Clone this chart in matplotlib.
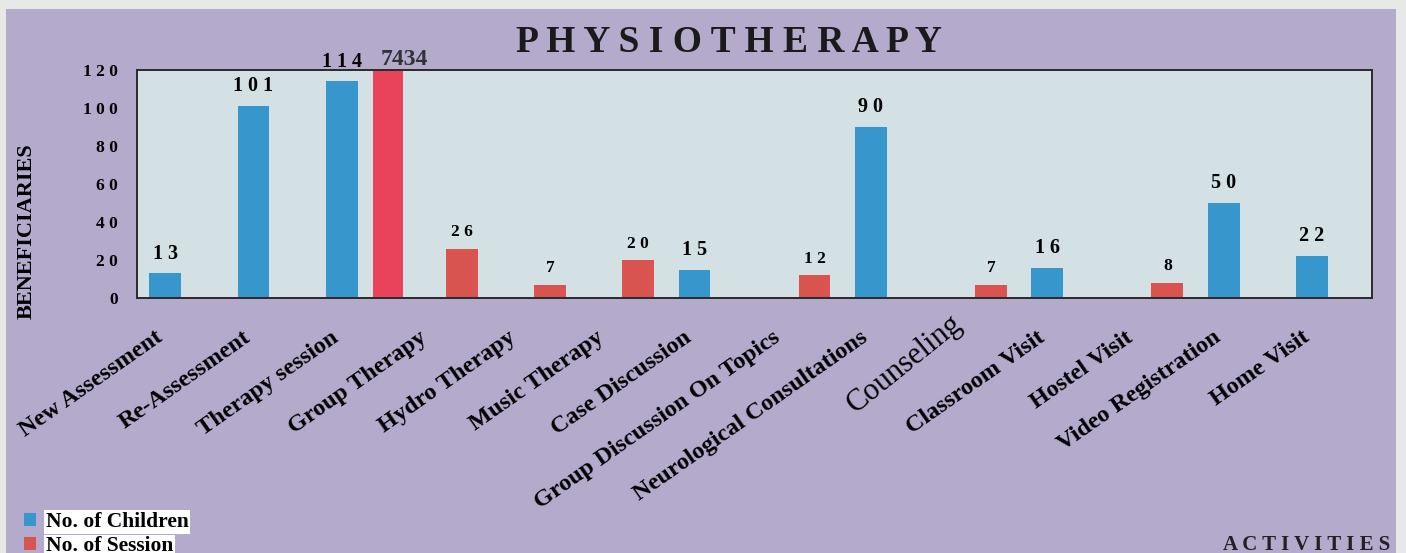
import matplotlib.pyplot as plt
import numpy as np
from matplotlib.patches import Rectangle
from matplotlib.transforms import ScaledTranslation

# data
activities = ['New Assessment', 'Re-Assessment', 'Therapy session', 'Group Therapy',
              'Hydro Therapy', 'Music Therapy', 'Case Discussion',
              'Group Discussion On Topics', 'Neurological Consultations', 'Counseling',
              'Classroom Visit', 'Hostel Visit', 'Video Registration', 'Home Visit']
children = [13, 101, 114, None, None, None, 15, None, 90, None, 16, None, 50, 22]
sessions = [None, None, None, 26, 7, 20, None, 12, None, 7, None, 8, None, None]
total_session_cat = 'Therapy session'
total_session_val = 7434
yticks = [0, 20, 40, 60, 80, 100, 120]

blue = '#3796cb'
red = '#d9544f'
pink = '#e8435b'
purple = '#b4aacb'
serif = ['Liberation Serif', 'DejaVu Serif']
plt.rcParams['font.family'] = serif

fig = plt.figure(figsize=(14.06, 5.53), dpi=100, facecolor='#e7e9e6')
fig.patches.append(Rectangle((6/1406, 0), 1390/1406, 544/553, transform=fig.transFigure,
                             facecolor=purple, edgecolor='none', zorder=-10))

ax = fig.add_axes([137/1406, 255/553, 1235/1406, 228/553])
ax.set_facecolor('#d3e1e5')

x = np.arange(len(activities))
w = 0.36
cx = [i for i, v in zip(x, children) if v is not None]
cv = [v for v in children if v is not None]
sx = [i for i, v in zip(x, sessions) if v is not None]
sv = [v for v in sessions if v is not None]

b1 = ax.bar(cx, cv, width=-w, align='edge', color=blue, label='No. of Children')
b2 = ax.bar(sx, sv, width=w, align='edge', color=red, label='No. of Session')
ti = activities.index(total_session_cat)
ax.bar(ti + 0.175, total_session_val, width=0.34, align='edge', color=pink)

for i, v in zip(cx, cv):
    ax.annotate(' '.join(str(v)), (i - w/2, v), xytext=(0, 7), textcoords='offset points',
                ha='center', va='bottom', fontsize=14.5, fontweight='bold')
for i, v in zip(sx, sv):
    ax.annotate(' '.join(str(v)), (i + w/2, v), xytext=(0, 6), textcoords='offset points',
                ha='center', va='bottom', fontsize=12.5, fontweight='bold')
ax.annotate(str(total_session_val), (ti + 0.53, 120), xytext=(0, 0), textcoords='offset points',
            ha='center', va='bottom', fontsize=17, fontweight='bold', color='#333333',
            annotation_clip=False)

ax.set_xlim(-0.5, len(activities) - 0.5)
ax.set_ylim(0, 120)
ax.set_yticks(yticks, [' '.join(str(t)) for t in yticks], fontsize=12.5, fontweight='bold')
ax.tick_params(axis='y', length=0, pad=14)
ax.set_xticks(x, activities, rotation=35, ha='right', va='center', rotation_mode='anchor',
              fontsize=17.5, fontweight='bold')
ax.tick_params(axis='x', length=0, pad=27)
shift = ScaledTranslation(-15/72, 0, fig.dpi_scale_trans)
for lab in ax.get_xticklabels():
    if lab.get_text() == 'Counseling':
        lab.set_fontsize(22)
        lab.set_fontweight('normal')
        lab.set_rotation(39)
        lab.set_transform(lab.get_transform() + ScaledTranslation(-12/72, 11/72, fig.dpi_scale_trans))
    else:
        lab.set_transform(lab.get_transform() + shift)

for s in ax.spines.values():
    s.set_color('#2a2a2a')
    s.set_linewidth(1.4)

fig.text(729/1406, 501/553, 'P H Y S I O T H E R A P Y', ha='center', va='baseline',
         fontsize=27, fontweight='bold', color='#1a1a1a')
fig.text(27/1406, 322/553, 'BENEFICIARIES', rotation=90, ha='center', va='center',
         fontsize=16, fontweight='bold')
fig.text(1390/1406, 3/553, 'A C T I V I T I E S', ha='right', va='baseline',
         fontsize=15, fontweight='bold', color='#222222')

leg = ax.legend(handles=[b1, b2], loc='upper left', bbox_to_anchor=(24/1406, 41/553),
                bbox_transform=fig.transFigure, frameon=False, borderpad=0, borderaxespad=0,
                handlelength=0.55, handleheight=0.55, handletextpad=0.45, labelspacing=0.2,
                prop={'weight': 'bold', 'size': 15.5})
for t in leg.get_texts():
    t.set_bbox(dict(facecolor='white', edgecolor='none', pad=1.2))

fig.savefig('out.png', dpi=100, facecolor=fig.get_facecolor())
